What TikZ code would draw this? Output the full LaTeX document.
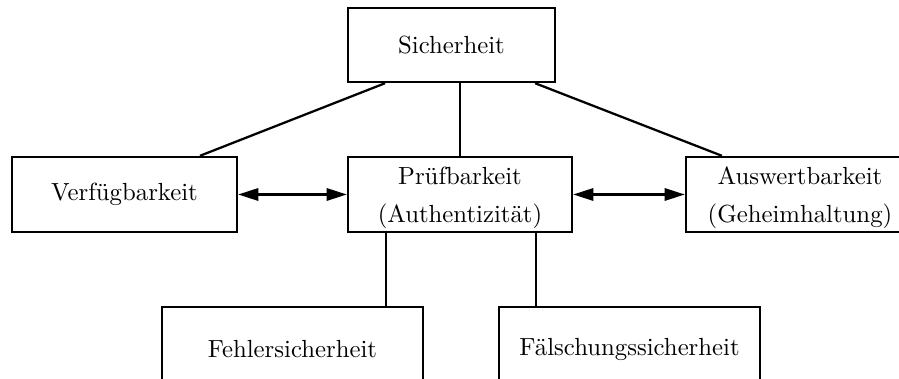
\documentclass[tikz,border=0pt]{standalone}
\usetikzlibrary{arrows.meta}
\begin{document}
\begin{tikzpicture}[x=0.42pt,y=-0.42pt,
  labelfont/.style={font=\fontsize{10.4}{12.5}\selectfont},
  box/.style={draw,line width=1pt,rectangle,inner sep=0pt,align=center,labelfont},
  boxtext/.style={align=center,inner sep=0pt,labelfont},
  link/.style={line width=0.95pt},
  both/.style={line width=0.95pt,{Triangle[length=8.5pt,width=5.2pt]}-{Triangle[length=8.5pt,width=5.2pt]}}]
\clip (0,0) rectangle (899,379);
% top level
\node[box,minimum width=86.9pt,minimum height=31.1pt] (s) at (451.5,45) {Sicherheit};
% middle level
\node[box,minimum width=94.5pt,minimum height=31.5pt] (v) at (124.5,194.5) {Verfügbarkeit};
\node[box,minimum width=94.1pt,minimum height=31.5pt] (p) at (460,194.5) {};
\node[boxtext] (ptext) at ([yshift=-1.4pt]p.center) {Prüfbarkeit\\[3.6pt](Authentizität)};
\node[box,minimum width=95.8pt,minimum height=31.5pt] (a) at (800,194.5) {};
\node[boxtext] (atext) at ([yshift=-1.4pt]a.center) {Auswertbarkeit\\[3.6pt](Geheimhaltung)};
% bottom level
\node[box,minimum width=109.6pt,minimum height=35.3pt] (f) at (292.5,349) {Fehlersicherheit};
\node[box,minimum width=109.6pt,minimum height=35.3pt] (g) at (629.5,349) {Fälschungssicherheit};
% tree links
\draw[link] ([xshift=-27.9pt]s.south) -- ([xshift=31.7pt]v.north);
\draw[link] (s.south -| p.north) -- (p.north);
\draw[link] ([xshift=35.1pt]s.south) -- ([xshift=-32.8pt]a.north);
\coordinate (pf) at ([xshift=-31.1pt]p.south);
\coordinate (pg) at ([xshift=31.9pt]p.south);
\draw[link] (pf) -- (pf |- f.north);
\draw[link] (pg) -- (pg |- g.north);
% mutual relations
\draw[both] (v.east) -- (p.west);
\draw[both] (p.east) -- (a.west);
\end{tikzpicture}
\end{document}
